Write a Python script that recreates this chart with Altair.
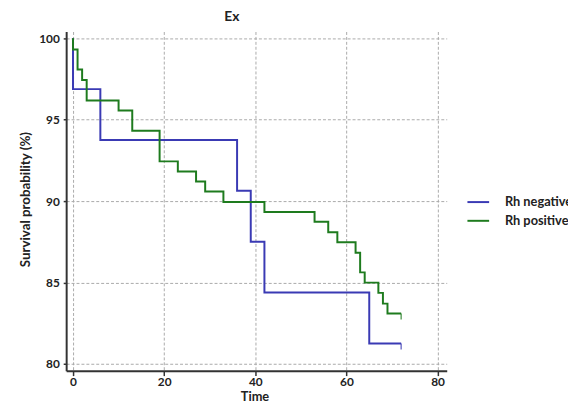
import altair as alt
import pandas as pd

# Kaplan-Meier steps
neg_time = [0, 0, 6, 36, 39, 42, 65, 72]
neg_surv = [100, 96.88, 93.75, 90.63, 87.5, 84.38, 81.25, 81.25]

pos_time = [0, 0, 1, 2, 3, 10, 13, 19, 23, 27, 29, 33, 42, 53, 56, 58, 62, 63, 64, 67, 68, 69, 72]
pos_surv = [100, 99.32, 98.08, 97.44, 96.18, 95.56, 94.32, 92.44, 91.82, 91.21, 90.59, 89.94,
            89.33, 88.73, 88.08, 87.47, 86.83, 85.62, 84.99, 84.36, 83.70, 83.09, 83.09]

groups = ["Rh negative", "Rh positive"]
colors = ["#3a3ab4", "#1e7b1e"]

censor_time = [72, 72]
censor_surv = [81.25, 83.09]
censor_group = ["Rh negative", "Rh positive"]

x_ticks = [0, 20, 40, 60, 80]
y_ticks = [80, 85, 90, 95, 100]

rows = []
for i, (t, s) in enumerate(zip(neg_time, neg_surv)):
    rows.append({"time": t, "surv": s, "group": groups[0], "order": i})
for i, (t, s) in enumerate(zip(pos_time, pos_surv)):
    rows.append({"time": t, "surv": s, "group": groups[1], "order": i})
df = pd.DataFrame(rows)
cens = pd.DataFrame({"time": censor_time, "surv": censor_surv, "group": censor_group})

FONT = "Lato"
xscale = alt.Scale(domain=[-1.5, 82], nice=False, zero=False)
yscale = alt.Scale(domain=[79.58, 100.42], nice=False, zero=False)
cscale = alt.Scale(domain=groups, range=colors)

lines = alt.Chart(df).mark_line(interpolate="step-after", strokeWidth=2).encode(
    x=alt.X("time:Q", scale=xscale,
            axis=alt.Axis(values=x_ticks, title="Time", titleX=191, titleY=26,
                          titleBaseline="middle", titleAlign="center", titleFontSize=13,
                          tickSize=5, labelPadding=1)),
    y=alt.Y("surv:Q", scale=yscale,
            axis=alt.Axis(values=y_ticks, title="Survival probability (%)",
                          titleX=-41, titleY=170, titleAngle=270, titleFontSize=13.5,
                          titleBaseline="middle", titleAlign="center",
                          tickSize=3, labelPadding=4)),
    color=alt.Color("group:N", scale=cscale,
                    legend=alt.Legend(orient="none", legendX=406, legendY=161, title=None,
                                      symbolType="stroke", symbolSize=484, symbolStrokeWidth=2,
                                      labelFont=FONT, labelFontSize=13, labelFontWeight="bold",
                                      labelColor="#222", labelOffset=15, rowPadding=-13,
                                      padding=0)),
    order="order:Q",
)

ticks = alt.Chart(cens).mark_tick(orient="vertical", size=6, thickness=1.5, yOffset=3).encode(
    x=alt.X("time:Q", scale=xscale),
    y=alt.Y("surv:Q", scale=yscale),
    color=alt.Color("group:N", scale=cscale, legend=None),
)

chart = alt.layer(lines, ticks).properties(
    width=386,
    height=344,
    title=alt.TitleParams("Ex", font=FONT, fontSize=14, fontWeight="bold", color="#222",
                          anchor="middle", dx=-25, offset=8),
    autosize=alt.AutoSizeParams(type="none"),
    padding={"left": 59, "top": 21, "right": 123, "bottom": 34},
).configure_view(stroke=None).configure_axis(
    domainColor="#333", domainWidth=2, tickColor="#333", tickWidth=1.5,
    grid=True, gridColor="#aaaaaa", gridDash=[3, 2], gridWidth=1,
    labelFont=FONT, labelFontSize=12, labelFontWeight="bold", labelColor="#222",
    titleFont=FONT, titleFontWeight="bold", titleColor="#222",
)

chart.save("out.html", embed_options={"renderer": "svg", "actions": False})
